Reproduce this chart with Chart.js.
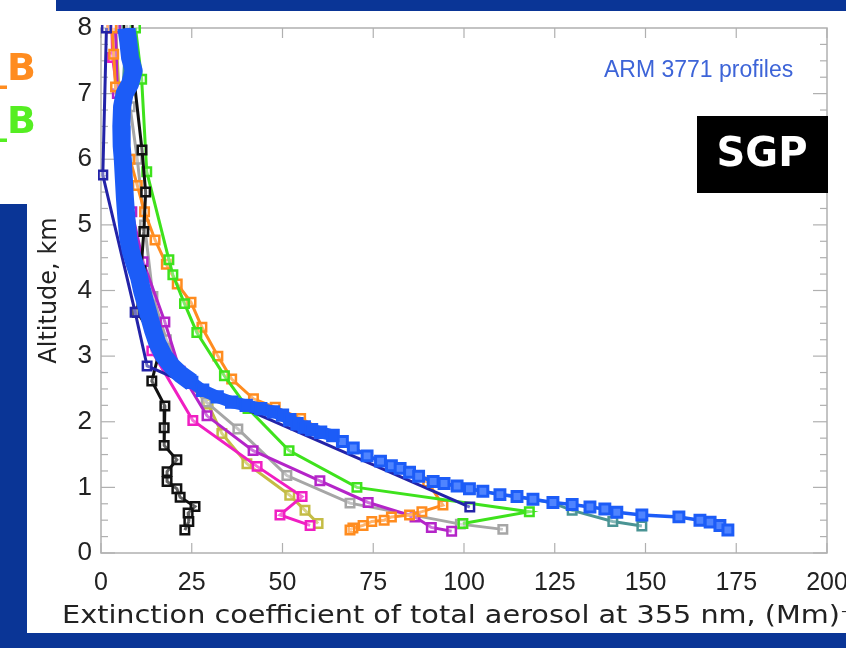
<!DOCTYPE html>
<html><head><meta charset="utf-8">
<script src="https://cdn.jsdelivr.net/npm/chart.js@4.4.1/dist/chart.umd.min.js"></script>
<style>html,body{margin:0;padding:0;background:#fff;overflow:hidden}</style>
</head><body>
<canvas id="c" width="846" height="648"></canvas>
<script>
// ---- data (x = extinction, (Mm)^-1 ; y = altitude, km) ----
const xTicks = [0, 25, 50, 75, 100, 125, 150, 175, 200];
const yTicks = [0, 1, 2, 3, 4, 5, 6, 7, 8];
const xTitle = 'Extinction coefficient of total aerosol at 355 nm, (Mm)⁻¹';
const yTitle = 'Altitude, km';

const armMeanUpper = [[7.0,8.0],[7.5,7.8],[8.0,7.55],[9.0,7.35],[8.0,7.15],[6.5,7.0],[5.8,6.8],[5.6,6.5],[5.7,6.2],[6.0,6.0],[6.3,5.7],[6.6,5.4],[7.0,5.1],[7.5,4.8],[8.2,4.6],[9.3,4.4],[10.5,4.2],[11.3,4.0],[12.3,3.8],[13.3,3.6],[14.3,3.4],[15.5,3.2],[17.3,3.0],[19.5,2.85],[22.0,2.72],[25.0,2.6]];
const armMeanMid = [[25.0,2.6],[28.0,2.48],[32.0,2.38],[36.0,2.3],[40.0,2.25],[44.0,2.2],[47.5,2.15],[50.0,2.1],[52.0,2.03],[54.0,1.97],[56.0,1.92],[58.0,1.88],[60.5,1.84],[63.9,1.79]];
const armMeanLower = [[63.9,1.79],[66.5,1.7],[69.5,1.6],[73.3,1.48],[77.0,1.4],[80.0,1.33],[82.4,1.29],[85.0,1.23],[87.5,1.17],[91.5,1.09],[94.5,1.06],[98.1,1.02],[101.5,0.98],[105.2,0.94],[109.9,0.89],[114.6,0.86],[119.0,0.82],[124.5,0.77],[129.8,0.74],[134.7,0.70],[138.8,0.67],[142.1,0.62],[149.0,0.58],[159.2,0.55],[165.0,0.50],[167.8,0.47],[170.5,0.42],[172.7,0.35]];
const navy = [[1.5,8.0],[0.5,5.76],[9.4,3.67],[12.7,2.85],[101.6,0.70]];
const black = [[7.5,8.0],[11.3,6.14],[12.3,5.5],[11.8,4.9],[11.0,4.3],[10.0,3.67],[16.3,3.12],[14.0,2.62],[17.6,2.24],[17.4,1.91],[17.4,1.64],[20.9,1.42],[18.2,1.24],[18.2,1.09],[20.9,0.98],[21.8,0.85],[25.9,0.71],[24.0,0.61],[24.2,0.48],[23.1,0.35]];
const green = [[9.5,8.0],[11.2,7.22],[12.6,5.81],[18.7,4.47],[19.8,4.24],[23.0,3.8],[26.4,3.36],[34.0,2.7],[40.5,2.2],[51.8,1.56],[70.5,1.0],[118.0,0.63],[99.7,0.45]];
const orange = [[3.0,8.0],[3.5,7.6],[4.0,7.1],[5.5,6.6],[8.0,6.0],[10.0,5.6],[12.0,5.2],[14.9,4.77],[18.0,4.4],[21.0,4.1],[24.8,3.82],[27.8,3.44],[32.2,3.0],[36.0,2.65],[42.0,2.35],[48.0,2.22],[55.0,2.05],[63.9,1.79],[73.3,1.48],[82.4,1.29],[90.0,1.08],[94.2,0.73],[88.4,0.63],[85.0,0.58],[80.0,0.55],[78.0,0.5],[74.6,0.48],[72.2,0.42],[69.4,0.38],[68.6,0.35]];
const pink = [[3.0,8.0],[3.2,7.55],[5.5,6.6],[6.0,5.8],[7.4,5.05],[14.0,3.08],[25.3,2.02],[43.0,1.32],[55.4,0.86],[49.3,0.58],[57.6,0.42]];
const purple = [[4.0,8.0],[4.5,7.0],[6.0,6.0],[8.5,5.2],[11.6,4.44],[17.6,3.52],[21.8,2.77],[29.2,2.09],[41.9,1.56],[60.3,1.1],[73.6,0.77],[86.5,0.55],[91.0,0.39],[96.6,0.33]];
const gray = [[6.0,8.0],[8.0,6.8],[10.0,6.0],[12.0,5.0],[14.3,3.91],[18.0,3.25],[23.0,2.7],[29.0,2.3],[37.7,1.89],[51.2,1.18],[68.6,0.76],[99.0,0.44],[110.7,0.36]];
const olive = [[4.0,8.0],[6.0,6.0],[10.0,4.2],[15.2,3.2],[19.5,2.85],[29.5,2.27],[33.3,1.82],[40.2,1.36],[52.0,0.88],[56.2,0.65],[59.8,0.45]];
const teal = [[7.0,8.0],[5.8,6.8],[5.7,6.0],[7.0,5.1],[9.3,4.4],[12.3,3.8],[17.3,3.0],[25.0,2.6],[36.0,2.3],[47.5,2.15],[54.0,1.97],[63.9,1.79],[73.3,1.48],[82.4,1.29],[91.5,1.09],[101.5,0.98],[109.9,0.89],[119.0,0.82],[124.5,0.76],[129.8,0.65],[141.0,0.48],[149.0,0.41]];

const toXY = a => a.map(([x, y]) => ({x, y}));

function series(data, color, order, extra) {
  return Object.assign({
    data: toXY(data), borderColor: color, backgroundColor: color,
    borderWidth: 3, pointStyle: 'rect', pointRadius: 6, pointBorderWidth: 2.5,
    pointBorderColor: color, pointBackgroundColor: 'rgba(255,255,255,0.35)',
    tension: 0, order: order, clip: 3
  }, extra || {});
}

const ARM = '#1c5cf7';
const datasets = [
  series(armMeanUpper, ARM, 0, {borderWidth: 18, pointRadius: 0, borderJoinStyle: 'round', clip: 0}),
  series(armMeanMid, ARM, 0, {borderWidth: 12, pointRadius: 8, pointBorderWidth: 2, pointBackgroundColor: ARM, borderJoinStyle: 'round'}),
  series(armMeanLower, ARM, 0, {borderWidth: 3.5, pointRadius: 7, pointBorderWidth: 3, pointBackgroundColor: '#4f84ff'}),
  series(navy, '#2323a8', 1),
  series(black, '#111111', 2),
  series(green, '#3ee21c', 3),
  series(orange, '#ff8c1f', 4),
  series(purple, '#b424c8', 5),
  series(pink, '#f01ec2', 6),
  series(gray, '#a6a6a6', 7),
  series(olive, '#c4bc45', 8),
  series(teal, '#4a9494', 9)
];

const decor = {
  id: 'decor',
  beforeDraw(chart) {
    const ctx = chart.ctx;
    ctx.save(); ctx.fillStyle = '#ffffff'; ctx.fillRect(0, 0, chart.width, chart.height); ctx.restore();
  },
  beforeDatasetsDraw(chart) {
    const {ctx, chartArea: a, scales: {x, y}} = chart;
    ctx.save();
    ctx.strokeStyle = '#b0b0b0'; ctx.lineWidth = 1.5;
    ctx.strokeRect(a.left, a.top, a.right - a.left, a.bottom - a.top);
    const seg = (x1, y1, x2, y2) => { ctx.beginPath(); ctx.moveTo(x1, y1); ctx.lineTo(x2, y2); ctx.stroke(); };
    ctx.lineWidth = 1.2;
    for (let i = 0; i < yTicks.length - 1; i++) {
      for (let k = 0; k < 4; k++) {
        const v = yTicks[i] + k * (yTicks[i + 1] - yTicks[i]) / 4;
        const py = y.getPixelForValue(v);
        const len = k === 0 ? 14 : 7;
        seg(a.left, py, a.left + len, py); seg(a.right - len, py, a.right, py);
      }
    }
    xTicks.forEach(v => {
      const px = x.getPixelForValue(v);
      seg(px, a.bottom, px, a.bottom - 10); seg(px, a.top, px, a.top + 10);
    });
    ctx.restore();
  },
  afterDraw(chart) {
    const ctx = chart.ctx;
    ctx.save();
    // x-axis title (wide gothic-like face approximated by horizontal stretch)
    ctx.font = '24px "DejaVu Sans", sans-serif';
    ctx.fillStyle = '#222'; ctx.textAlign = 'left'; ctx.textBaseline = 'middle';
    const base = xTitle.replace('⁻¹', '');
    const sx = 778 / ctx.measureText(base).width;
    ctx.save(); ctx.translate(62, 617); ctx.scale(sx, 1); ctx.fillText(xTitle, 0, 0); ctx.restore();
    // slide background bands
    ctx.fillStyle = '#0a3596';
    ctx.fillRect(56, 0, 790, 11);
    ctx.fillRect(0, 204, 27, 444);
    ctx.fillRect(0, 633, 846, 15);
    // labels
    ctx.font = '23px "Liberation Sans", Arial, sans-serif';
    ctx.fillStyle = '#3d64d8'; ctx.textAlign = 'left'; ctx.textBaseline = 'middle';
    ctx.fillText('ARM 3771 profiles', 604, 71);
    ctx.fillStyle = '#000'; ctx.fillRect(697, 116, 131, 77);
    ctx.fillStyle = '#fff'; ctx.textAlign = 'center';
    ctx.font = 'bold 40px "DejaVu Sans", sans-serif';
    ctx.fillText('SGP', 762, 156);
    ctx.textAlign = 'right'; ctx.textBaseline = 'alphabetic';
    ctx.font = 'bold 38px "DejaVu Sans", sans-serif';
    ctx.fillStyle = '#ff8c1f'; ctx.fillText('_B', 36, 80);
    ctx.fillStyle = '#55ee22'; ctx.fillText('_B', 36, 133);
    ctx.restore();
  }
};

new Chart(document.getElementById('c'), {
  type: 'line',
  data: { datasets },
  plugins: [decor],
  options: {
    responsive: false, animation: false,
    layout: { padding: { left: 35, right: 19, top: 28, bottom: 20 } },
    plugins: { legend: { display: false }, tooltip: { enabled: false } },
    scales: {
      x: {
        type: 'linear', min: 0, max: 200,
        afterBuildTicks: s => { s.ticks = xTicks.map(v => ({value: v})); },
        afterFit: s => { s.height = 75; s.paddingLeft = 0; s.paddingRight = 0; },
        grid: { display: false, drawTicks: false }, border: { display: false },
        ticks: { color: '#222', padding: 15, maxRotation: 0, autoSkip: false, font: { family: '"Liberation Sans", Arial, sans-serif', size: 25 } },
        title: { display: false }
      },
      y: {
        type: 'linear', min: 0, max: 8,
        afterBuildTicks: s => { s.ticks = yTicks.map(v => ({value: v})); },
        afterFit: s => { s.width = 66; s.paddingTop = 0; s.paddingBottom = 0; },
        grid: { display: false, drawTicks: false }, border: { display: false },
        ticks: { color: '#222', padding: 9, autoSkip: false, font: { family: '"Liberation Sans", Arial, sans-serif', size: 26 } },
        title: { display: true, text: yTitle, color: '#222', padding: 0, font: { family: '"DejaVu Sans", sans-serif', size: 24 } }
      }
    }
  }
});
</script>
</body></html>
